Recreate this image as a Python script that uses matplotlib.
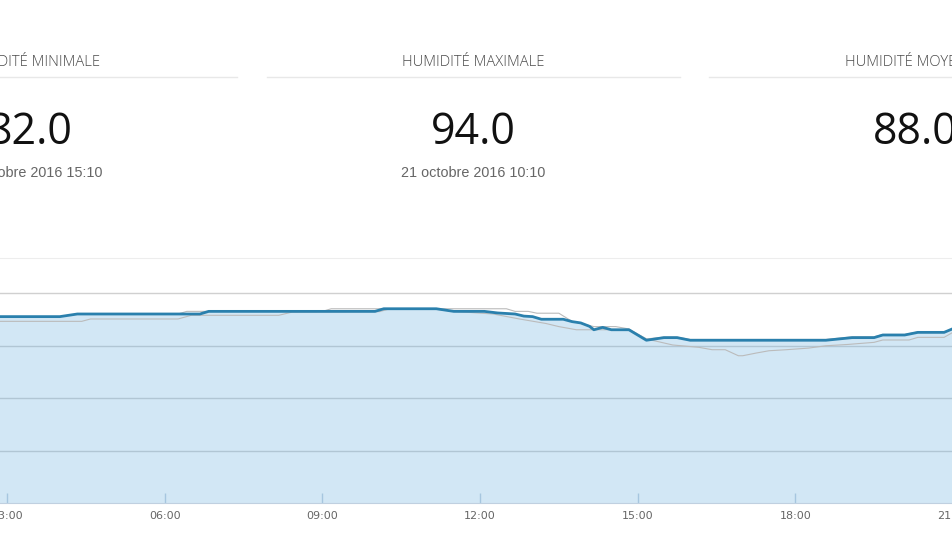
import matplotlib
matplotlib.use("Agg")
import matplotlib.pyplot as plt
from matplotlib.lines import Line2D

W_PX, H_PX = 953, 536

# summary panels
STAT_LABELS = ["HUMIDITÉ MINIMALE", "HUMIDITÉ MAXIMALE", "HUMIDITÉ MOYENNE"]
STAT_VALUES = ["82.0", "94.0", "88.0"]
STAT_DATES = ["21 octobre 2016 15:10", "21 octobre 2016 10:10", ""]

# humidity (%) over the day, main series
MAIN_TIMES = ["02:50", "04:00", "04:20", "06:40", "06:50", "10:00", "10:10",
              "11:10", "11:30", "12:05", "12:20", "12:40", "12:50", "13:00",
              "13:10", "13:35", "13:45", "13:55", "14:05", "14:10", "14:20",
              "14:30", "14:50", "15:10", "15:30", "15:45", "16:00", "18:35",
              "19:05", "19:30", "19:40", "20:05", "20:20", "20:50", "21:00",
              "21:10"]
MAIN_HUM = [91.0, 91.0, 92.0, 92.0, 93.0, 93.0, 94.0,
            94.0, 93.0, 93.0, 92.4, 92.0, 91.2, 91.0,
            90.0, 90.0, 89.1, 88.6, 87.3, 86.0, 86.9,
            86.0, 86.0, 82.0, 83.0, 83.0, 82.0, 82.0,
            83.0, 83.0, 84.0, 84.0, 85.0, 85.0, 86.4,
            87.0]

# upper grey line
UPPER_TIMES = ["02:50", "04:00", "04:20", "06:15", "06:25", "09:00", "09:10",
               "12:30", "12:40", "12:55", "13:05", "13:30", "13:45", "14:10",
               "14:35", "14:50", "15:10", "15:30", "15:45", "16:00", "18:35",
               "19:05", "19:30", "19:40", "20:05", "20:20", "20:50", "21:10"]
UPPER_HUM = [91.0, 91.0, 92.0, 92.0, 93.0, 93.0, 94.0,
             94.0, 93.0, 93.0, 92.3, 92.3, 89.2, 87.2,
             87.2, 86.3, 82.5, 83.2, 83.2, 82.3, 82.3,
             83.3, 83.3, 84.2, 84.2, 85.2, 85.2, 87.0]

# lower grey line
LOWER_TIMES = ["02:50", "04:25", "04:35", "06:15", "06:30", "08:10", "08:25",
               "10:05", "10:15", "11:10", "11:30", "12:15", "12:45", "13:15",
               "13:30", "13:50", "14:50", "15:10", "15:40", "16:10", "16:25",
               "16:40", "16:55", "17:00", "17:15", "17:30", "17:50", "18:15",
               "18:35", "19:00", "19:30", "19:40", "20:10", "20:20", "20:50",
               "21:00", "21:10"]
LOWER_HUM = [89.2, 89.2, 90.1, 90.1, 91.5, 91.5, 92.7,
             92.9, 93.8, 93.8, 93.0, 92.0, 90.1, 88.4,
             87.2, 86.0, 86.0, 82.5, 80.2, 79.3, 78.4,
             78.4, 76.1, 76.1, 77.1, 78.0, 78.4, 79.0,
             79.9, 80.4, 81.2, 82.1, 82.1, 83.1, 83.1,
             85.0, 86.0]

TICK_HOURS = [3, 6, 9, 12, 15, 18, 21]
GRID_VALUES = [40, 60, 80, 100]


def to_hours(times):
    out = []
    for t in times:
        h, m = t.split(":")
        out.append(int(h) + int(m) / 60)
    return out


def fx(px):
    return px / W_PX


def fy(py):
    return 1 - py / H_PX


def main():
    fig = plt.figure(figsize=(W_PX / 100, H_PX / 100), dpi=100)
    fig.patch.set_facecolor("white")

    # --- summary panels -------------------------------------------------
    centers = [30.5, 473.5, 915.5]
    half_w = 206.5
    for cx, lab, val, date in zip(centers, STAT_LABELS, STAT_VALUES, STAT_DATES):
        fig.text(fx(cx), fy(65.5), lab, ha="center", va="baseline",
                 fontsize=10.6, color="#4a4a4a", family="Open Sans",
                 fontweight="light")
        fig.add_artist(Line2D([fx(cx - half_w), fx(cx + half_w)],
                              [fy(77), fy(77)], color="#e8e8e8", lw=1))
        fig.text(fx(cx), fy(144), val, ha="center", va="baseline",
                 fontsize=31, color="#111111", family="Open Sans")
        if date:
            fig.text(fx(cx), fy(176.5), date, ha="center", va="baseline",
                     fontsize=10.4, color="#666666", family="Liberation Sans")

    # --- chart ----------------------------------------------------------
    ax = fig.add_axes([0, (H_PX - 503) / H_PX, 1, 245 / H_PX])
    main_x = to_hours(MAIN_TIMES)
    up_x = to_hours(UPPER_TIMES)
    lo_x = to_hours(LOWER_TIMES)

    ax.fill_between(main_x, MAIN_HUM, 0, color="#6cb2de", alpha=0.3,
                    lw=0, zorder=2)
    ax.plot(up_x, UPPER_HUM, color="#bbbbbb", lw=0.8, zorder=3)
    ax.plot(lo_x, LOWER_HUM, color="#bbbbbb", lw=0.8, zorder=3)
    ax.plot(main_x, MAIN_HUM, color="#2a80ad", lw=2.0, zorder=4,
            solid_joinstyle="round")

    ax.set_xlim(3 - 7.3 / 52.53, 3 + 945.7 / 52.53)
    ax.set_ylim(20, 20 + 245 / 2.625)

    ax.set_yticks(GRID_VALUES)
    ax.yaxis.grid(True, color="#d0d0d0", lw=1)
    ax.set_axisbelow(True)
    ax.tick_params(axis="y", left=False, labelleft=False)

    ax.set_xticks(TICK_HOURS)
    ax.set_xticklabels([f"{h:02d}:00" for h in TICK_HOURS])
    ax.tick_params(axis="x", direction="in", length=7, width=1,
                   color="#c0d0e0", labelsize=8, labelcolor="#666666", pad=6)

    for side in ("left", "right"):
        ax.spines[side].set_visible(False)
    ax.spines["top"].set_color("#ededed")
    ax.spines["bottom"].set_color("#c0d0e0")
    ax.set_facecolor("none")

    fig.savefig("out.png", dpi=100)
    plt.close(fig)


if __name__ == "__main__":
    main()
